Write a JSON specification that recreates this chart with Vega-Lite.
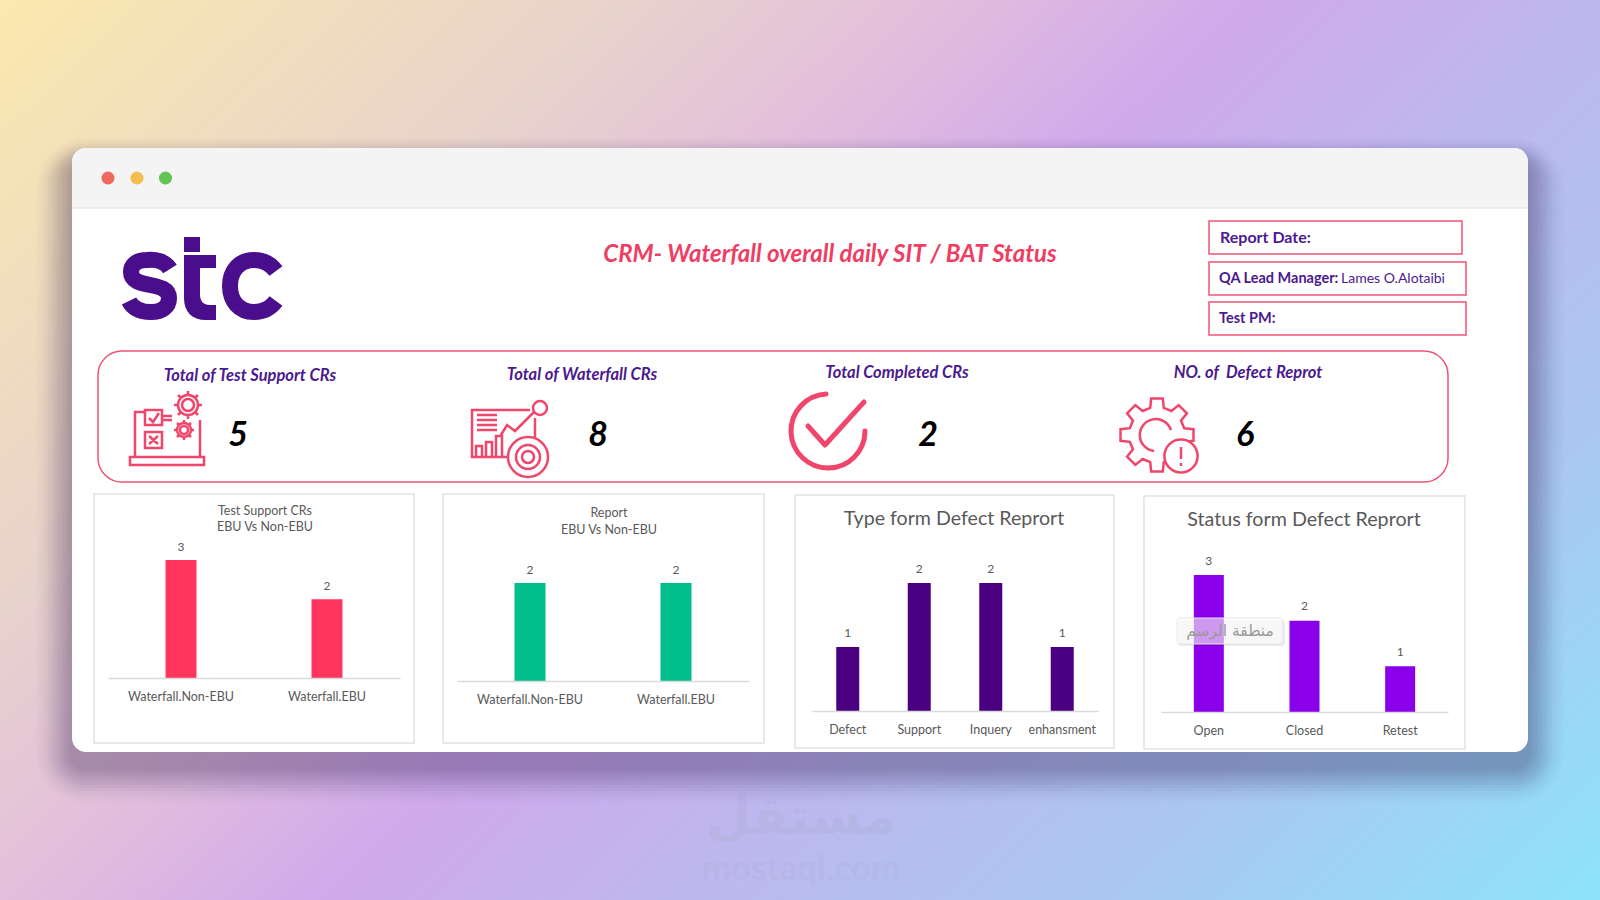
{
  "$schema": "https://vega.github.io/schema/vega-lite/v6.json",
  "width": 1600,
  "height": 900,
  "autosize": {"type": "none"},
  "padding": 0,
  "background": "#cfa9ec",
  "config": {
    "view": {"stroke": null},
    "axis": {"disable": true},
    "text": {"font": "Lato"}
  },
  "data": {"values": [{}]},
  "resolve": {"scale": {"x": "independent", "y": "independent"}, "axis": {"x": "independent", "y": "independent"}},
  "layer": [
    {
      "layer": [
        {"mark": {"type": "rect", "color": {"gradient": "linear", "x1": 0, "y1": 0, "x2": 1.18, "y2": 0.68, "stops": [
          {"offset": 0, "color": "#fbe9ae"},
          {"offset": 0.25, "color": "#e8d2cc"},
          {"offset": 0.37, "color": "#e3bfdc"},
          {"offset": 0.5, "color": "#cfa9ec"},
          {"offset": 0.64, "color": "#bdb8ef"},
          {"offset": 0.8, "color": "#abc6f2"},
          {"offset": 1, "color": "#8ee3fa"}
        ]}}},
        {"mark": {"type": "text", "text": "مستقل", "font": "DejaVu Sans", "fontWeight": "bold", "fontSize": 52, "color": "#9a9aa8", "opacity": 0.13},
          "encoding": {"x": {"datum": 801, "scale": {"domain": [0, 1600], "range": [0, 1600]}}, "y": {"datum": 818, "scale": {"domain": [0, 900], "range": [0, 900]}}}},
        {"mark": {"type": "text", "text": "mostaql.com", "fontSize": 35, "fontWeight": "bold", "color": "#9a9aa8", "opacity": 0.1},
          "encoding": {"x": {"datum": 801}, "y": {"datum": 869}}},
        {"mark": {"type": "rect", "color": "#2a2550", "opacity": 0.012, "cornerRadius": 50}, "encoding": {"x": {"datum": 36}, "x2": {"datum": 1564}, "y": {"datum": 138}, "y2": {"datum": 803}}},
        {"mark": {"type": "rect", "color": "#2a2550", "opacity": 0.016, "cornerRadius": 47}, "encoding": {"x": {"datum": 39}, "x2": {"datum": 1561}, "y": {"datum": 140}, "y2": {"datum": 800}}},
        {"mark": {"type": "rect", "color": "#2a2550", "opacity": 0.02, "cornerRadius": 44}, "encoding": {"x": {"datum": 42}, "x2": {"datum": 1558}, "y": {"datum": 142}, "y2": {"datum": 797}}},
        {"mark": {"type": "rect", "color": "#2a2550", "opacity": 0.024, "cornerRadius": 41}, "encoding": {"x": {"datum": 45}, "x2": {"datum": 1555}, "y": {"datum": 144}, "y2": {"datum": 794}}},
        {"mark": {"type": "rect", "color": "#2a2550", "opacity": 0.03, "cornerRadius": 38}, "encoding": {"x": {"datum": 48}, "x2": {"datum": 1552}, "y": {"datum": 146}, "y2": {"datum": 791}}},
        {"mark": {"type": "rect", "color": "#2a2550", "opacity": 0.035, "cornerRadius": 35}, "encoding": {"x": {"datum": 51}, "x2": {"datum": 1549}, "y": {"datum": 148}, "y2": {"datum": 788}}},
        {"mark": {"type": "rect", "color": "#2a2550", "opacity": 0.04, "cornerRadius": 32}, "encoding": {"x": {"datum": 54}, "x2": {"datum": 1546}, "y": {"datum": 150}, "y2": {"datum": 785}}},
        {"mark": {"type": "rect", "color": "#2a2550", "opacity": 0.04, "cornerRadius": 29}, "encoding": {"x": {"datum": 57}, "x2": {"datum": 1543}, "y": {"datum": 152}, "y2": {"datum": 782}}},
        {"mark": {"type": "rect", "color": "#2a2550", "opacity": 0.04, "cornerRadius": 26}, "encoding": {"x": {"datum": 60}, "x2": {"datum": 1540}, "y": {"datum": 154}, "y2": {"datum": 779}}},
        {"mark": {"type": "rect", "color": "#2a2550", "opacity": 0.04, "cornerRadius": 23}, "encoding": {"x": {"datum": 63}, "x2": {"datum": 1537}, "y": {"datum": 156}, "y2": {"datum": 776}}},
        {"mark": {"type": "rect", "color": "#2a2550", "opacity": 0.04, "cornerRadius": 20}, "encoding": {"x": {"datum": 66}, "x2": {"datum": 1534}, "y": {"datum": 158}, "y2": {"datum": 773}}},
        {"mark": {"type": "rect", "color": "#2a2550", "opacity": 0.04, "cornerRadius": 17}, "encoding": {"x": {"datum": 69}, "x2": {"datum": 1531}, "y": {"datum": 160}, "y2": {"datum": 770}}},
        {"mark": {"type": "rect", "color": "#ffffff", "cornerRadius": 14}, "encoding": {"x": {"datum": 72}, "x2": {"datum": 1528}, "y": {"datum": 148}, "y2": {"datum": 752}}},
        {"mark": {"type": "rect", "color": "#f4f4f4", "cornerRadiusTopLeft": 14, "cornerRadiusTopRight": 14}, "encoding": {"x": {"datum": 72}, "x2": {"datum": 1528}, "y": {"datum": 148}, "y2": {"datum": 208}}},
        {"mark": {"type": "rule", "color": "#e9e9e9", "strokeWidth": 1.5}, "encoding": {"x": {"datum": 72}, "x2": {"datum": 1528}, "y": {"datum": 208}}},
        {"mark": {"type": "point", "shape": "circle", "filled": true, "size": 170, "color": "#ee6a5f", "opacity": 1}, "encoding": {"x": {"datum": 108}, "y": {"datum": 178}}},
        {"mark": {"type": "point", "shape": "circle", "filled": true, "size": 170, "color": "#f5bd4f", "opacity": 1}, "encoding": {"x": {"datum": 137}, "y": {"datum": 178}}},
        {"mark": {"type": "point", "shape": "circle", "filled": true, "size": 170, "color": "#61c454", "opacity": 1}, "encoding": {"x": {"datum": 165.5}, "y": {"datum": 178}}},
        {"mark": {"type": "rect", "fill": "#ffffff", "stroke": "#ee5475", "strokeWidth": 1.5, "cornerRadius": 24}, "encoding": {"x": {"datum": 98}, "x2": {"datum": 1448}, "y": {"datum": 351}, "y2": {"datum": 482}}},
        {"mark": {"type": "rect", "fill": "#ffffff", "stroke": "#ee5475", "strokeWidth": 1.5}, "encoding": {"x": {"datum": 1209}, "x2": {"datum": 1462}, "y": {"datum": 221}, "y2": {"datum": 254}}},
        {"mark": {"type": "rect", "fill": "#ffffff", "stroke": "#ee5475", "strokeWidth": 1.5}, "encoding": {"x": {"datum": 1209}, "x2": {"datum": 1466}, "y": {"datum": 262}, "y2": {"datum": 295}}},
        {"mark": {"type": "rect", "fill": "#ffffff", "stroke": "#ee5475", "strokeWidth": 1.5}, "encoding": {"x": {"datum": 1209}, "x2": {"datum": 1466}, "y": {"datum": 302}, "y2": {"datum": 335}}},
        {"mark": {"type": "rect", "fill": "#ffffff", "stroke": "#e2e2e2", "strokeWidth": 1.5}, "encoding": {"x": {"datum": 94}, "x2": {"datum": 414}, "y": {"datum": 494}, "y2": {"datum": 743}}},
        {"mark": {"type": "rect", "fill": "#ffffff", "stroke": "#e2e2e2", "strokeWidth": 1.5}, "encoding": {"x": {"datum": 443}, "x2": {"datum": 764}, "y": {"datum": 494}, "y2": {"datum": 743}}},
        {"mark": {"type": "rect", "fill": "#ffffff", "stroke": "#e2e2e2", "strokeWidth": 1.5}, "encoding": {"x": {"datum": 795}, "x2": {"datum": 1114}, "y": {"datum": 495}, "y2": {"datum": 748}}},
        {"mark": {"type": "rect", "fill": "#ffffff", "stroke": "#e2e2e2", "strokeWidth": 1.5}, "encoding": {"x": {"datum": 1144}, "x2": {"datum": 1465}, "y": {"datum": 496}, "y2": {"datum": 749}}}
      ]
    },
    {
      "data": {"values": [{"kind": "Waterfall.Non-EBU", "count": 3}, {"kind": "Waterfall.EBU", "count": 2}]},
      "encoding": {
        "x": {"field": "kind", "type": "nominal", "sort": null, "scale": {"range": [108, 400], "paddingInner": 0, "paddingOuter": 0},
          "axis": {"disable": false, "zindex": 1, "orient": "bottom", "offset": -222, "title": null, "ticks": false, "grid": false, "labelAngle": 0, "labelFont": "Lato", "labelFontSize": 12.5, "labelColor": "#595959", "labelPadding": 12, "domainColor": "#d9d9d9", "domainWidth": 1.5}},
        "y": {"field": "count", "type": "quantitative", "scale": {"domain": [0, 3], "range": [678, 560]}}
      },
      "layer": [
        {"mark": {"type": "bar", "width": 31, "color": "#ff355e"}},
        {"mark": {"type": "text", "dy": -13.5, "fontSize": 12, "color": "#595959"}, "encoding": {"text": {"field": "count"}}}
      ]
    },
    {
      "data": {"values": [{"kind": "Waterfall.Non-EBU", "count": 2}, {"kind": "Waterfall.EBU", "count": 2}]},
      "encoding": {
        "x": {"field": "kind", "type": "nominal", "sort": null, "scale": {"range": [457, 749], "paddingInner": 0, "paddingOuter": 0},
          "axis": {"disable": false, "zindex": 1, "orient": "bottom", "offset": -219, "title": null, "ticks": false, "grid": false, "labelAngle": 0, "labelFont": "Lato", "labelFontSize": 12.5, "labelColor": "#595959", "labelPadding": 12, "domainColor": "#d9d9d9", "domainWidth": 1.5}},
        "y": {"field": "count", "type": "quantitative", "scale": {"domain": [0, 2], "range": [681, 583]}}
      },
      "layer": [
        {"mark": {"type": "bar", "width": 31, "color": "#00bf8c"}},
        {"mark": {"type": "text", "dy": -13.5, "fontSize": 12, "color": "#595959"}, "encoding": {"text": {"field": "count"}}}
      ]
    },
    {
      "data": {"values": [{"kind": "Defect", "count": 1}, {"kind": "Support", "count": 2}, {"kind": "Inquery", "count": 2}, {"kind": "enhansment", "count": 1}]},
      "encoding": {
        "x": {"field": "kind", "type": "nominal", "sort": null, "scale": {"range": [812, 1098], "paddingInner": 0, "paddingOuter": 0},
          "axis": {"disable": false, "zindex": 1, "orient": "bottom", "offset": -189, "title": null, "ticks": false, "grid": false, "labelAngle": 0, "labelFont": "Lato", "labelFontSize": 12.5, "labelColor": "#595959", "labelPadding": 12, "domainColor": "#d9d9d9", "domainWidth": 1.5}},
        "y": {"field": "count", "type": "quantitative", "scale": {"domain": [0, 2], "range": [711, 583]}}
      },
      "layer": [
        {"mark": {"type": "bar", "width": 23, "color": "#4b0082"}},
        {"mark": {"type": "text", "dy": -14.5, "fontSize": 12, "color": "#595959"}, "encoding": {"text": {"field": "count"}}}
      ]
    },
    {
      "data": {"values": [{"kind": "Open", "count": 3}, {"kind": "Closed", "count": 2}, {"kind": "Retest", "count": 1}]},
      "encoding": {
        "x": {"field": "kind", "type": "nominal", "sort": null, "scale": {"range": [1161, 1448], "paddingInner": 0, "paddingOuter": 0},
          "axis": {"disable": false, "zindex": 1, "orient": "bottom", "offset": -188, "title": null, "ticks": false, "grid": false, "labelAngle": 0, "labelFont": "Lato", "labelFontSize": 12.5, "labelColor": "#595959", "labelPadding": 12, "domainColor": "#d9d9d9", "domainWidth": 1.5}},
        "y": {"field": "count", "type": "quantitative", "scale": {"domain": [0, 3], "range": [712, 575]}}
      },
      "layer": [
        {"mark": {"type": "bar", "width": 30, "color": "#8b00ea"}},
        {"mark": {"type": "text", "dy": -14.5, "fontSize": 12, "color": "#595959"}, "encoding": {"text": {"field": "count"}}}
      ]
    },
    {
      "layer": [
        {"mark": {"type": "point", "filled": true, "size": 4, "color": "#4a0d8c", "opacity": 1, "shape": "M-16 -43 H0 V-28 H-16 Z M0 -25 H16 V-12 H0 Z M-16 -25 H0 V14 C0 21 3 25 10 25 H16 V40 H6 C-8 40 -16 32 -16 18 Z"},
          "encoding": {"x": {"datum": 200, "scale": {"domain": [0, 1600], "range": [0, 1600]}}, "y": {"datum": 280, "scale": {"domain": [0, 900], "range": [0, 900]}}}},
        {"mark": {"type": "point", "filled": false, "size": 4, "stroke": "#4a0d8c", "strokeWidth": 16, "opacity": 1, "shape": "M20 -17 C15 -25 5 -27 -3 -26 C-14 -26 -19 -21 -19 -14 C-19 -5 -10 -3 0 -1 C10 1 19 3 19 12 C19 21 12 26 1 26 C-9 26 -17 23 -21 15"},
          "encoding": {"x": {"datum": 150}, "y": {"datum": 286}}},
        {"mark": {"type": "point", "filled": false, "size": 4, "stroke": "#4a0d8c", "strokeWidth": 16, "opacity": 1, "shape": "M23 -15 C17 -23 9 -26 1 -26 C-14 -26 -23 -15 -23 0 C-23 15 -14 26 1 26 C9 26 17 23 23 15"},
          "encoding": {"x": {"datum": 253}, "y": {"datum": 286}}},
        {"mark": {"type": "text", "text": "CRM- Waterfall overall daily SIT / BAT Status", "fontSize": 24, "fontWeight": "bold", "fontStyle": "italic", "color": "#ee3e63"},
          "encoding": {"x": {"datum": 830}, "y": {"datum": 255}}},
        {"mark": {"type": "text", "text": "Report Date:", "align": "left", "fontSize": 16, "fontWeight": "bold", "color": "#4b1a8f"}, "encoding": {"x": {"datum": 1220}, "y": {"datum": 238}}},
        {"mark": {"type": "text", "text": "QA Lead Manager:", "align": "left", "fontSize": 14.5, "fontWeight": "bold", "color": "#4b1a8f"}, "encoding": {"x": {"datum": 1219}, "y": {"datum": 279}}},
        {"mark": {"type": "text", "text": "Lames O.Alotaibi", "align": "left", "fontSize": 14, "color": "#4b1a8f"}, "encoding": {"x": {"datum": 1341}, "y": {"datum": 279}}},
        {"mark": {"type": "text", "text": "Test PM:", "align": "left", "fontSize": 14.5, "fontWeight": "bold", "color": "#4b1a8f"}, "encoding": {"x": {"datum": 1219}, "y": {"datum": 319}}},
        {"mark": {"type": "text", "text": "Total of Test Support CRs", "fontSize": 16.5, "fontWeight": "bold", "fontStyle": "italic", "color": "#4b1a8f"}, "encoding": {"x": {"datum": 250}, "y": {"datum": 376}}},
        {"mark": {"type": "text", "text": "Total of Waterfall CRs", "fontSize": 16.5, "fontWeight": "bold", "fontStyle": "italic", "color": "#4b1a8f"}, "encoding": {"x": {"datum": 582}, "y": {"datum": 375}}},
        {"mark": {"type": "text", "text": "Total Completed CRs", "fontSize": 16.5, "fontWeight": "bold", "fontStyle": "italic", "color": "#4b1a8f"}, "encoding": {"x": {"datum": 897}, "y": {"datum": 373}}},
        {"mark": {"type": "text", "text": "NO. of \u00a0Defect Reprot", "fontSize": 16.5, "fontWeight": "bold", "fontStyle": "italic", "color": "#4b1a8f"}, "encoding": {"x": {"datum": 1248}, "y": {"datum": 373}}},
        {"data": {"values": [{"count": 5}]}, "mark": {"type": "text", "fontSize": 34, "fontWeight": "bold", "fontStyle": "italic", "color": "#000000"}, "encoding": {"x": {"datum": 238}, "y": {"datum": 436}, "text": {"field": "count"}}},
        {"data": {"values": [{"count": 8}]}, "mark": {"type": "text", "fontSize": 34, "fontWeight": "bold", "fontStyle": "italic", "color": "#000000"}, "encoding": {"x": {"datum": 598}, "y": {"datum": 436}, "text": {"field": "count"}}},
        {"data": {"values": [{"count": 2}]}, "mark": {"type": "text", "fontSize": 34, "fontWeight": "bold", "fontStyle": "italic", "color": "#000000"}, "encoding": {"x": {"datum": 928}, "y": {"datum": 436}, "text": {"field": "count"}}},
        {"data": {"values": [{"count": 6}]}, "mark": {"type": "text", "fontSize": 34, "fontWeight": "bold", "fontStyle": "italic", "color": "#000000"}, "encoding": {"x": {"datum": 1245}, "y": {"datum": 436}, "text": {"field": "count"}}},
        {"mark": {"type": "point", "filled": false, "size": 4, "stroke": "#f0466b", "strokeWidth": 2.5, "opacity": 1, "shape": "M-37 29 H37 V37 H-37 Z M-32 29 V-16 H-22 M33 -8 V29 M-22 -18 H-5 V-3 H-22 Z M-18 -10 L-14 -6 L-8 -15 M-5 -12 H5 M-5 -8 H5 M-22 4 H-5 V20 H-22 Z M-18 8 L-9 16 M-9 8 L-18 16 M27 -23 A6 6 0 1 0 15 -23 A6 6 0 1 0 27 -23 Z M31 -23 A10 10 0 1 0 11 -23 A10 10 0 1 0 31 -23 Z M31 -23 H35 M11 -23 H7 M21 -33 V-37 M21 -13 V-9 M28 -30 L31 -33 M14 -30 L11 -33 M28 -16 L31 -13 M14 -16 L11 -13 M21 2 A4 4 0 1 0 13 2 A4 4 0 1 0 21 2 Z M24 2 A7 7 0 1 0 10 2 A7 7 0 1 0 24 2 Z M24 2 H27 M10 2 H7 M17 -5 V-8 M17 9 V12 M22 -3 L24 -5 M12 -3 L10 -5 M22 7 L24 9 M12 7 L10 9"},
          "encoding": {"x": {"datum": 167}, "y": {"datum": 428}}},
        {"mark": {"type": "point", "filled": false, "size": 4, "stroke": "#f0466b", "strokeWidth": 2.5, "opacity": 1, "shape": "M20 -28 H-38 V19 H-2 M25 -20 V0 M-33 -23 H-13 M-33 -18 H-13 M-33 -13 H-13 M-33 -8 H-13 M-9 -3 L-3 -13 L5 -7 L24 -26 M37 -30 A7 7 0 1 0 23 -30 A7 7 0 1 0 37 -30 Z M-34 18 V8 H-28 V18 M-24 18 V4 H-18 V18 M-14 18 V-2 H-8 V18 M38 19 A20 20 0 1 0 -2 19 A20 20 0 1 0 38 19 Z M30 19 A12 12 0 1 0 6 19 A12 12 0 1 0 30 19 Z M24 19 A6 6 0 1 0 12 19 A6 6 0 1 0 24 19 Z"},
          "encoding": {"x": {"datum": 510}, "y": {"datum": 438}}},
        {"mark": {"type": "point", "filled": false, "size": 4, "stroke": "#f0466b", "strokeWidth": 5, "strokeCap": "round", "strokeJoin": "round", "opacity": 1, "shape": "M-2 -37 A37 37 0 1 0 37 0 M-20 -5 L-3 14 L36 -29"},
          "encoding": {"x": {"datum": 828}, "y": {"datum": 431}}},
        {"mark": {"type": "point", "filled": false, "size": 4, "stroke": "#f0466b", "strokeWidth": 2.5, "opacity": 1, "shape": "M27.2 -6.8 L36.5 -5.8 L36.5 5.8 L27.2 6.8 L24 14.4 L29.9 21.7 L21.7 29.9 L14.4 24 L6.8 27.2 L5.8 36.5 L-5.8 36.5 L-6.8 27.2 L-14.4 24 L-21.7 29.9 L-29.9 21.7 L-24 14.4 L-27.2 6.8 L-36.5 5.8 L-36.5 -5.8 L-27.2 -6.8 L-24 -14.4 L-29.9 -21.7 L-21.7 -29.9 L-14.4 -24 L-6.8 -27.2 L-5.8 -36.5 L5.8 -36.5 L6.8 -27.2 L14.4 -24 L21.7 -29.9 L29.9 -21.7 L24 -14.4 Z M-3 16 A16 16 0 1 1 14 -5"},
          "encoding": {"x": {"datum": 1157}, "y": {"datum": 435}}},
        {"mark": {"type": "point", "shape": "circle", "filled": true, "size": 1100, "fill": "#ffffff", "stroke": "#f0466b", "strokeWidth": 2.5, "opacity": 1}, "encoding": {"x": {"datum": 1181}, "y": {"datum": 456}}},
        {"mark": {"type": "point", "filled": false, "size": 4, "stroke": "#f0466b", "strokeWidth": 2.5, "opacity": 1, "shape": "M0 -9 V3 M0 7 V10"},
          "encoding": {"x": {"datum": 1181}, "y": {"datum": 456}}},
        {"mark": {"type": "text", "text": ["Test Support CRs", "EBU Vs Non-EBU"], "baseline": "top", "lineHeight": 16.5, "fontSize": 12.5, "color": "#595959"}, "encoding": {"x": {"datum": 265}, "y": {"datum": 504.5}}},
        {"mark": {"type": "text", "text": ["Report", "EBU Vs Non-EBU"], "baseline": "top", "lineHeight": 16.5, "fontSize": 12.5, "color": "#595959"}, "encoding": {"x": {"datum": 609}, "y": {"datum": 507}}},
        {"mark": {"type": "text", "text": "Type form Defect Reprort", "fontSize": 19.6, "color": "#595959"}, "encoding": {"x": {"datum": 954}, "y": {"datum": 519}}},
        {"mark": {"type": "text", "text": "Status form Defect Reprort", "fontSize": 19.7, "color": "#595959"}, "encoding": {"x": {"datum": 1304}, "y": {"datum": 520}}},
        {"mark": {"type": "rect", "color": "#000000", "opacity": 0.08, "cornerRadius": 3}, "encoding": {"x": {"datum": 1178}, "x2": {"datum": 1285}, "y": {"datum": 620}, "y2": {"datum": 646}}},
        {"mark": {"type": "rect", "fill": "#ffffff", "fillOpacity": 0.6, "stroke": "#e6e6e6", "cornerRadius": 3}, "encoding": {"x": {"datum": 1177}, "x2": {"datum": 1283}, "y": {"datum": 618}, "y2": {"datum": 644}}},
        {"mark": {"type": "text", "text": "منطقة الرسم", "font": "DejaVu Sans", "fontSize": 15.5, "color": "#9a9a9a"}, "encoding": {"x": {"datum": 1230}, "y": {"datum": 631}}}
      ]
    }
  ]
}
